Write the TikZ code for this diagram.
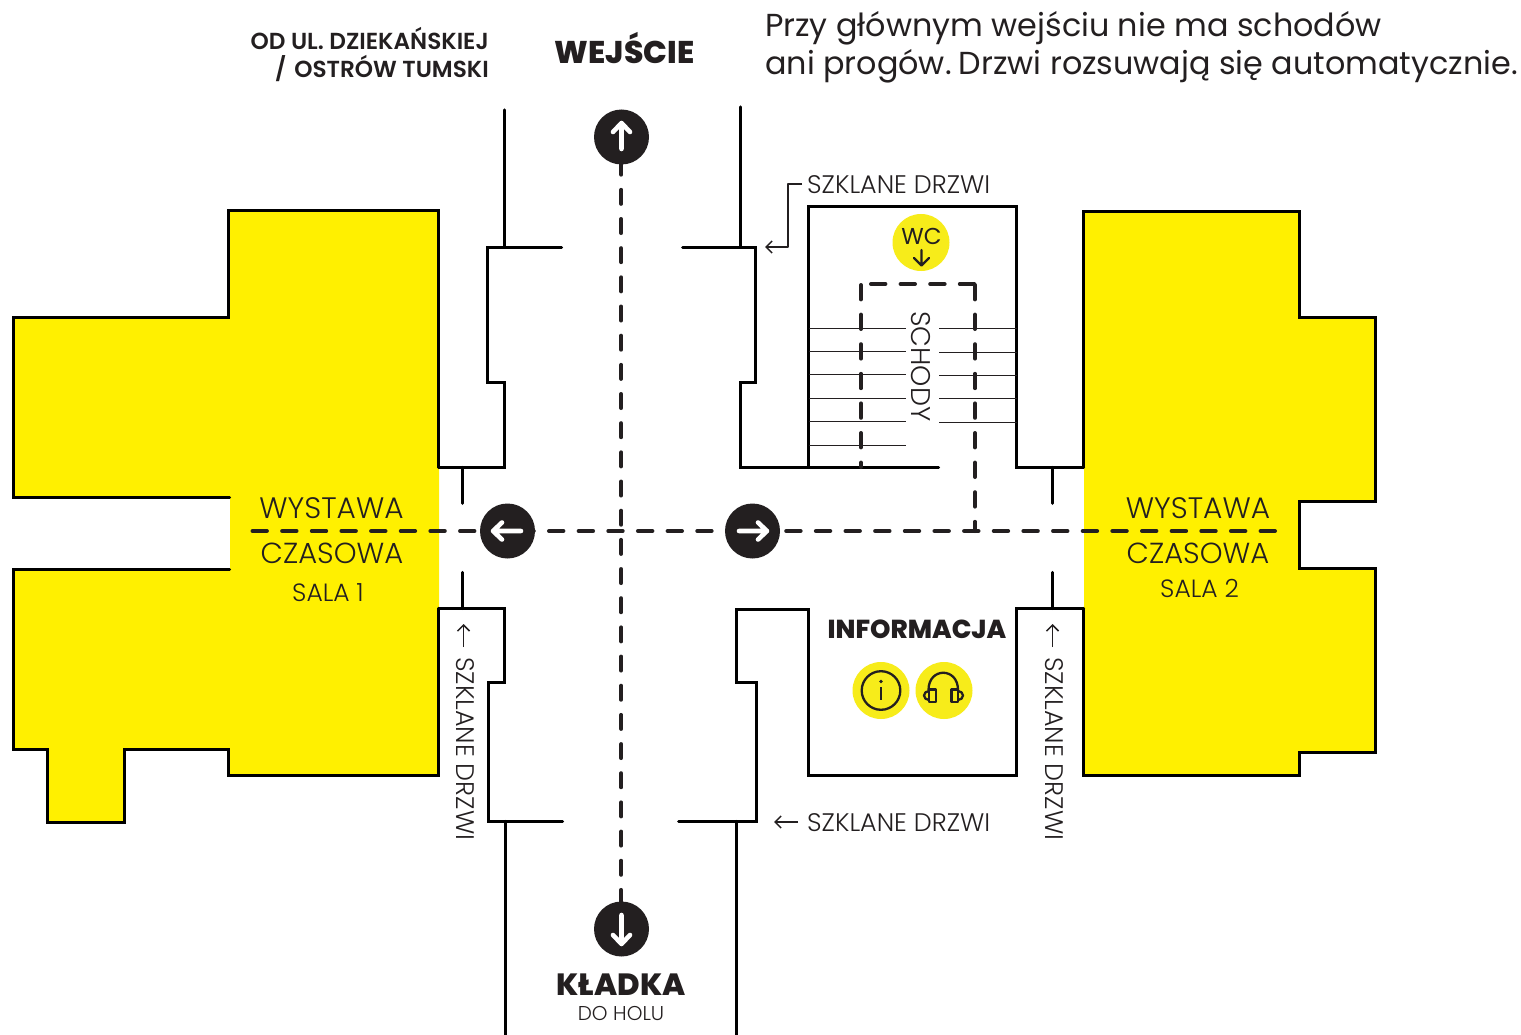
\documentclass[tikz,border=0pt]{standalone}
\usepackage{fontspec}
\setmainfont{Poppins}
\newfontfamily\lightf{Poppins Light}
\newfontfamily\semif{Poppins SemiBold}
\newfontfamily\xbf{Poppins ExtraBold}
\usetikzlibrary{arrows.meta}
\definecolor{ink}{HTML}{231F20}
\definecolor{fillY}{HTML}{FFF000}
\definecolor{badgeY}{HTML}{F7EC1A}
\newcommand{\fs}[1]{\fontsize{#1}{#1}\selectfont}
\tikzset{
  x=1pt,y=-1pt,
  wall/.style={draw=black,line width=3.2pt,line cap=round,line join=miter,xshift=-0.4pt,yshift=-0.4pt},
  room/.style={fill=fillY,draw=none},
  routeh/.style={draw=ink,line width=4pt,line cap=round,dash pattern=on 14.4pt off 15.25pt},
  routev/.style={draw=ink,line width=4pt,line cap=round,dash pattern=on 14pt off 15.17pt},
  routes/.style={draw=ink,line width=4pt,line cap=round,dash pattern=on 14.4pt off 15.2pt},
  stair/.style={draw=ink,line width=1pt},
  legend/.style={draw=ink,line width=1.5pt,line join=round,-{Straight Barb[length=6pt,width=12pt,line width=1.5pt]}},
  stop/.style={circle,fill=ink,minimum size=55pt,inner sep=0pt,draw=none},
  badge/.style={circle,fill=badgeY,minimum size=57pt,inner sep=0pt,draw=none},
  stoparrow/.style={draw=white,line width=4.6pt,line cap=round,line join=round},
  icon/.style={draw=ink,line width=2.3pt,line join=round},
  lab/.style={inner sep=0pt,text=ink,font=\lightf\fs{25.4}},
}
\begin{document}
\begin{tikzpicture}
\useasboundingbox[fill=white] (0,0) rectangle (1521,1035);
% rooms
\path[room] (229,210)--(439,210)--(439,775)--(229,775)--(229,749)--(125,749)--(125,822)--(48,822)--(48,749)--(14,749)--(14,569)--(230,569)--(230,497)--(14,497)--(14,317)--(229,317)--cycle;
\path[room] (1084,211)--(1300,211)--(1300,317)--(1376,317)--(1376,501)--(1300,501)--(1300,568)--(1376,568)--(1376,752)--(1300,752)--(1300,775)--(1084,775)--cycle;
% left room outline
\draw[wall] (439,467)--(439,210)--(229,210)--(229,317)--(14,317)--(14,497)--(230,497);
\draw[wall] (230,569)--(14,569)--(14,749)--(48,749)--(48,822)--(125,822)--(125,749)--(229,749)--(229,775)--(439,775)--(439,608);
% right room outline
\draw[wall] (1084,467)--(1084,211)--(1300,211)--(1300,317)--(1376,317)--(1376,501)--(1300,501)--(1300,568)--(1376,568)--(1376,752)--(1300,752)--(1300,775)--(1084,775)--(1084,608);
% corridor walls
\draw[wall] (505,109.5)--(505,247);
\draw[wall] (562,247)--(488,247)--(488,382)--(505,382)--(505,467)--(439,467);
\draw[wall] (463,467)--(463,503);
\draw[wall] (463,572)--(463,608);
\draw[wall] (439,608)--(505,608)--(505,682)--(489,682)--(489,821)--(563,821);
\draw[wall] (506,821)--(506,1035);
\draw[wall] (741,106.5)--(741,247);
\draw[wall] (683,247)--(756,247)--(756,382)--(741,382)--(741,467)--(939,467);
\draw[wall] (809,467)--(809,206)--(1017,206)--(1017,467)--(1084,467);
\draw[wall] (1053,467)--(1053,503);
\draw[wall] (1053,572)--(1053,608);
\draw[wall] (1084,608)--(1017,608)--(1017,775)--(809,775)--(809,609)--(737,609)--(737,682)--(757,682)--(757,821)--(679,821);
\draw[wall] (737,821)--(737,1035);
% stairs
\foreach \y in {328,351,374,398,421,445} \draw[stair] (809,\y)--(906,\y);
\foreach \y in {328,352,375,398,422} \draw[stair] (939,\y)--(1017,\y);
% routes
\draw[routev] (621.2,131.5)--(621.2,929);
\draw[routeh] (252.5,531)--(1275,531);
\draw[routes] (975,285)--(975,531);
\draw[routes] (861,285)--(861,467);
\draw[routes] (871,284)--(975,284);
% stops
\node[stop] (up) at (621.5,137) {};
\node[stop] (left) at (507.5,531) {};
\node[stop] (right) at (752.5,531) {};
\node[stop] (down) at (621.5,929) {};
\draw[stoparrow] (621.5,149)--(621.5,124) (613,132)--(621.5,123)--(630,132);
\draw[stoparrow] (521,531)--(494,531) (502,522.5)--(493,531)--(502,539.5);
\draw[stoparrow] (739,531)--(766,531) (758,522.5)--(767,531)--(758,539.5);
\draw[stoparrow] (621.5,915)--(621.5,943) (613,935)--(621.5,944)--(630,935);
% badges
\node[badge] (wc) at (921,242.5) {};
\node[inner sep=0pt,text=ink,font=\fs{23}] (wctext) at (921.5,236.5) {WC};
\draw[draw=ink,line width=2.2pt,line cap=round,line join=round] (921.5,250)--(921.5,265) (914,258)--(921.5,265.5)--(929,258);
\node[badge] (info) at (881,690.5) {};
\node[badge] (audio) at (944,690.5) {};
\draw[icon] (881,690.5) circle (19.3pt);
\fill[ink] (881,681.5) circle (1.9pt);
\draw[icon] (881,687)--(881,700);
% headphones
\draw[icon] (928.5,690) .. controls (928.5,667) and (958,667) .. (958,690);
\draw[icon] (929,689.5) rectangle (936,702) (951.5,689.5) rectangle (958,702);
\draw[icon] (929,691) arc[start angle=90,end angle=270,x radius=5pt,y radius=4.5pt];
\draw[icon] (958,691) arc[start angle=90,end angle=-90,x radius=5pt,y radius=4.5pt];
% legend arrows
\coordinate (d1a) at (802,184);
\coordinate (d1b) at (788,184);
\coordinate (d1c) at (788,247);
\coordinate (d1d) at (765,247);
\draw[legend] (d1a)--(d1b)--(d1c)--(d1d);
\coordinate (d2a) at (798,822);
\coordinate (d2b) at (774,822);
\draw[legend] (d2a)--(d2b);
\coordinate (d3a) at (463.5,647);
\coordinate (d3b) at (463.5,624);
\draw[legend] (d3a)--(d3b);
\coordinate (d4a) at (1052.5,647);
\coordinate (d4b) at (1052.5,624);
\draw[legend] (d4a)--(d4b);
% text
\node[inner sep=0pt,text=ink,anchor=base east,font=\semif\fs{23.2}] (t1) at (489,50) {OD UL. DZIEKAŃSKIEJ};
\node[inner sep=0pt,text=ink,anchor=base east,font=\semif\fs{23.2}] (t2) at (489,78) {/\hspace{2.5pt} OSTRÓW TUMSKI};
\node[inner sep=0pt,text=ink,anchor=base,font=\xbf\fs{31.4}] (t3) at (624.5,64) {WEJŚCIE};
\node[inner sep=0pt,text=ink,anchor=base west,font=\fs{31.8}] (t4) at (765,37) {Przy głównym wejściu nie ma schodów};
\node[inner sep=0pt,text=ink,anchor=base west,font=\fs{31.8}] (t5) at (765,75) {ani progów.\hspace{-4pt} Drzwi rozsuwają się automatycznie.};
\node[lab,anchor=base west] (t6) at (807,194) {SZKLANE DRZWI};
\node[lab,anchor=base west] (t7) at (807,831) {SZKLANE DRZWI};
\node[lab,anchor=base west,rotate=-90] (t8) at (456,657) {SZKLANE DRZWI};
\node[lab,anchor=base west,rotate=-90] (t9) at (1045,657) {SZKLANE DRZWI};
\node[lab,anchor=base west,rotate=-90,font=\lightf\fs{27}] (t10) at (911,311) {SCHODY};
\node[lab,anchor=base,font=\lightf\fs{29.6}] (t11) at (331.5,518) {WYSTAWA};
\node[lab,anchor=base,font=\lightf\fs{29}] (t12) at (332,563) {CZASOWA};
\node[lab,anchor=base,font=\lightf\fs{25}] (t13) at (328,601) {SALA 1};
\node[lab,anchor=base,font=\lightf\fs{29.6}] (t14) at (1198,518) {WYSTAWA};
\node[lab,anchor=base,font=\lightf\fs{29}] (t15) at (1198,563) {CZASOWA};
\node[lab,anchor=base,font=\lightf\fs{25}] (t16) at (1199.5,597) {SALA 2};
\node[inner sep=0pt,text=ink,anchor=base,font=\xbf\fs{26}] (t17) at (917,638) {INFORMACJA};
\node[inner sep=0pt,text=ink,anchor=base,font=\xbf\fs{30.7}] (t18) at (621,995) {KŁADKA};
\node[lab,anchor=base,font=\lightf\fs{20}] (t19) at (621,1020) {DO HOLU};
\end{tikzpicture}
\end{document}
